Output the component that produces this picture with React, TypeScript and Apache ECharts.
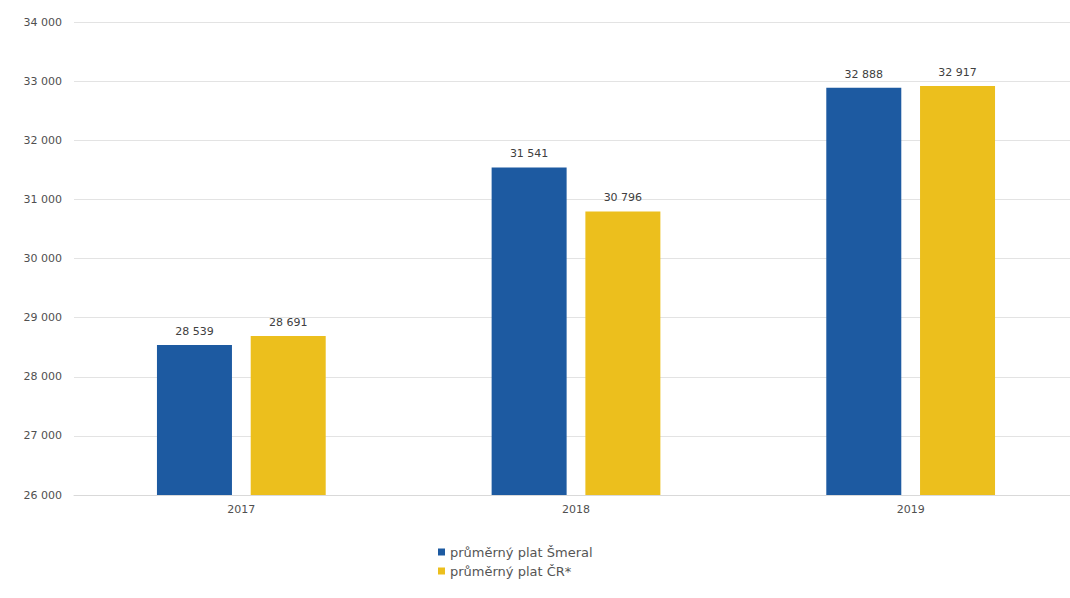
import React, { useEffect, useRef } from "react";
import * as echarts from "echarts";

const categories = ["2017", "2018", "2019"];
const smeral = [28539, 31541, 32888];
const cr = [28691, 30796, 32917];
const seriesNames = ["průměrný plat Šmeral", "průměrný plat ČR*"];
const yMin = 26000;
const yMax = 34000;
const yStep = 1000;

const fmt = (v: number) => {
  const s = String(Math.round(v));
  return s.replace(/\B(?=(\d{3})+(?!\d))/g, " ");
};

export default function App() {
  const ref = useRef<HTMLDivElement>(null);
  useEffect(() => {
    const chart = echarts.init(ref.current!, null, { renderer: "svg" });
    const label = {
      show: true,
      position: "top",
      distance: 8,
      color: "#404040",
      fontSize: 11,
      fontFamily: "DejaVu Sans",
      formatter: (p: any) => fmt(p.value),
    };
    chart.setOption({
      animation: false,
      backgroundColor: "#ffffff",
      textStyle: { fontFamily: "DejaVu Sans, sans-serif" },
      grid: { left: 74, top: 22, width: 1004, height: 473, containLabel: false },
      legend: {
        orient: "vertical",
        left: 433,
        top: 539,
        itemWidth: 7,
        itemHeight: 7,
        itemGap: 3,
        icon: "rect",
        data: seriesNames,
        textStyle: { color: "#555555", fontSize: 13, lineHeight: 16, fontFamily: "DejaVu Sans" },
      },
      xAxis: {
        type: "category",
        data: categories,
        axisLine: { show: true, lineStyle: { color: "#d9d9d9" } },
        axisTick: { show: false },
        axisLabel: { color: "#505050", fontSize: 11, margin: 9, fontFamily: "DejaVu Sans" },
      },
      yAxis: {
        type: "value",
        min: yMin,
        max: yMax,
        interval: yStep,
        axisLine: { show: false },
        axisTick: { show: false },
        splitLine: { lineStyle: { color: "#e3e3e3" } },
        axisLabel: {
          color: "#505050",
          fontSize: 11,
          margin: 12,
          fontFamily: "DejaVu Sans",
          formatter: (v: number) => fmt(v),
        },
      },
      series: [
        {
          name: seriesNames[0],
          type: "bar",
          data: smeral,
          barWidth: 75,
          barGap: "25%",
          itemStyle: { color: "#1d5aa1" },
          label,
        },
        {
          name: seriesNames[1],
          type: "bar",
          data: cr,
          barWidth: 75,
          barGap: "25%",
          itemStyle: { color: "#ecbf1d" },
          label,
        },
      ],
    });
    return () => chart.dispose();
  }, []);
  return (
    <div
      style={{
        position: "absolute",
        left: 0,
        top: 0,
        width: 1070,
        height: 598,
        overflow: "hidden",
      }}
    >
      <div ref={ref} style={{ width: 1082, height: 598 }} />
    </div>
  );
}
